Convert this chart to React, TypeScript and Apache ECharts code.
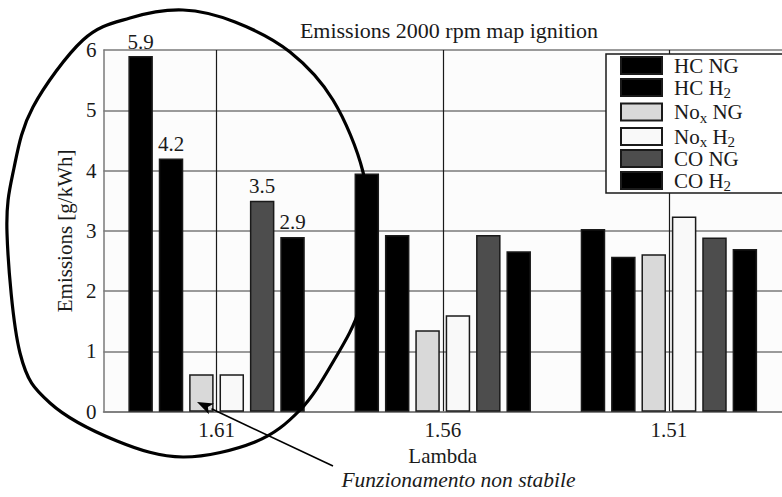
import React, { useEffect, useRef } from "react";
import * as echarts from "echarts";

const categories = ["1.61", "1.56", "1.51"];
const hcNG = [5.9, 3.95, 3.03];
const hcH2 = [4.2, 2.93, 2.57];
const noxNG = [0.62, 1.35, 2.61];
const noxH2 = [0.62, 1.6, 3.24];
const coNG = [3.5, 2.93, 2.89];
const coH2 = [2.9, 2.66, 2.7];

const seriesNames = ["HC NG", "HC H2", "Nox NG", "Nox H2", "CO NG", "CO H2"];
const legendLabels = [
  "{m|HC NG}",
  "{m|HC H}{s|2}",
  "{m|No}{s|x}{m| NG}",
  "{m|No}{s|x}{m| H}{s|2}",
  "{m|CO NG}",
  "{m|CO H}{s|2}",
];
const seriesData = [hcNG, hcH2, noxNG, noxH2, coNG, coH2];
const seriesColors = ["#000000", "#000000", "#d9d9d9", "#f9f9f9", "#4d4d4d", "#000000"];
const labelled = [true, true, false, false, true, true];

const title = "Emissions 2000 rpm map ignition";
const yName = "Emissions [g/kWh]";
const xName = "Lambda";
const note = "Funzionamento non stabile";

// hand-drawn loop around the unstable region (annotation outline)
const loopPts: number[][] = [
  [183, 10], [235, 22], [290, 52], [333, 100], [363, 172], [368, 240], [360, 307],
  [333, 362], [300, 410], [255, 442], [183, 457], [117, 441], [50, 403], [20, 353],
  [7, 233], [14, 168], [33, 107], [83, 40], [130, 18],
];
const arrowTail = [333, 466];
const arrowTip = [197, 402];

const FONT = "'Liberation Serif', 'Times New Roman', serif";
const TXT = "#1a1a1a";

function loopPath(pts: number[][]): string {
  const n = pts.length;
  let d = `M${pts[0][0]},${pts[0][1]}`;
  for (let i = 0; i < n; i++) {
    const p0 = pts[(i - 1 + n) % n];
    const p1 = pts[i];
    const p2 = pts[(i + 1) % n];
    const p3 = pts[(i + 2) % n];
    const c1x = p1[0] + (p2[0] - p0[0]) / 6;
    const c1y = p1[1] + (p2[1] - p0[1]) / 6;
    const c2x = p2[0] - (p3[0] - p1[0]) / 6;
    const c2y = p2[1] - (p3[1] - p1[1]) / 6;
    d += ` C${c1x},${c1y} ${c2x},${c2y} ${p2[0]},${p2[1]}`;
  }
  return d + " Z";
}

let registered = false;

export default function App() {
  const ref = useRef<HTMLDivElement>(null);
  useEffect(() => {
    if (!ref.current) return;
    if (!registered) {
      echarts.graphic.registerShape("loop", echarts.graphic.extendPath(loopPath(loopPts), {}));
      registered = true;
    }
    const chart = echarts.init(ref.current, null, { renderer: "svg" });

    const dx = arrowTip[0] - arrowTail[0];
    const dy = arrowTip[1] - arrowTail[1];
    const len = Math.sqrt(dx * dx + dy * dy);
    const ux = dx / len, uy = dy / len;
    const hl = 16, hw = 6;
    const bx = arrowTip[0] - ux * hl, by = arrowTip[1] - uy * hl;
    const px = -uy, py = ux;

    const series = seriesNames.map((name, si) => ({
      name,
      type: "bar",
      barWidth: 24.5,
      barGap: "24%",
      itemStyle: { color: seriesColors[si], borderColor: "#1a1a1a", borderWidth: 1.5 },
      data: seriesData[si].map((v, i) => ({
        value: v,
        label: {
          show: labelled[si] && i === 0,
          position: "top",
          distance: 4,
          fontFamily: FONT,
          fontSize: 21,
          color: TXT,
        },
      })),
    }));

    chart.setOption({
      animation: false,
      backgroundColor: "#ffffff",
      textStyle: { fontFamily: FONT },
      title: {
        text: title,
        left: 449,
        top: 19,
        padding: 0,
        textAlign: "center",
        textStyle: { fontFamily: FONT, fontSize: 22, fontWeight: "normal", color: TXT },
      },
      legend: {
        orient: "vertical",
        left: 606,
        top: 53,
        padding: [2, 120, 1, 14],
        itemWidth: 41,
        itemHeight: 17,
        itemGap: -1.5,
        borderWidth: 0,
        icon: "rect",
        z: 6,
        data: seriesNames,
        formatter: (name: string) => legendLabels[seriesNames.indexOf(name)],
        textStyle: {
          fontFamily: FONT,
          fontSize: 21,
          color: TXT,
          padding: [0, 0, 0, 7],
          rich: {
            m: { fontFamily: FONT, fontSize: 21, color: TXT, lineHeight: 23 },
            s: { fontFamily: FONT, fontSize: 15, color: TXT, lineHeight: 10, padding: [11, 0, 0, 0] },
          },
        },
      },
      grid: {
        left: 103.5,
        right: -10,
        top: 50,
        bottom: 85.3,
        show: true,
        backgroundColor: "#fcfcfc",
        borderWidth: 0,
      },
      xAxis: {
        type: "category",
        data: categories,
        boundaryGap: true,
        axisLine: { show: true, lineStyle: { color: "#7a7a7a", width: 1.5 } },
        axisTick: { show: false },
        axisLabel: { margin: 8, fontFamily: FONT, fontSize: 21, color: TXT },
        splitLine: { show: true, alignWithLabel: true, lineStyle: { color: "#1a1a1a", width: 1.2 } },
        name: xName,
        nameLocation: "middle",
        nameGap: 29,
        nameTextStyle: { fontFamily: FONT, fontSize: 21, color: TXT },
      },
      yAxis: {
        type: "value",
        min: 0,
        max: 6,
        interval: 1,
        axisLine: { show: true, lineStyle: { color: "#7a7a7a", width: 1.5 } },
        axisTick: { show: false },
        axisLabel: { margin: 7, fontFamily: FONT, fontSize: 21, color: TXT },
        splitLine: { show: true, lineStyle: { color: "#7a7a7a", width: 1.5 } },
        name: yName,
        nameLocation: "middle",
        nameGap: 27,
        nameRotate: 90,
        nameTextStyle: { fontFamily: FONT, fontSize: 21, color: TXT },
      },
      series,
      graphic: [
        {
          type: "rect",
          z: 5,
          silent: true,
          shape: { x: 606, y: 54, width: 200, height: 139 },
          style: { fill: "#ffffff", stroke: "#1a1a1a", lineWidth: 1.5 },
        },
        {
          type: "loop",
          x: 0,
          y: 0,
          scaleX: 1,
          scaleY: 1,
          z: 100,
          silent: true,
          style: { fill: "none", stroke: "#000000", lineWidth: 3.2 },
        },
        {
          type: "line",
          z: 100,
          silent: true,
          shape: { x1: arrowTail[0], y1: arrowTail[1], x2: bx, y2: by },
          style: { stroke: "#000000", lineWidth: 1.6 },
        },
        {
          type: "polygon",
          z: 100,
          silent: true,
          shape: {
            points: [
              [arrowTip[0], arrowTip[1]],
              [bx + px * hw, by + py * hw],
              [bx + ux * 4, by + uy * 4],
              [bx - px * hw, by - py * hw],
            ],
          },
          style: { fill: "#000000" },
        },
        {
          type: "text",
          z: 100,
          silent: true,
          style: {
            text: note,
            x: 458.5,
            y: 469,
            align: "center",
            verticalAlign: "top",
            font: "italic 21.5px 'Liberation Serif', 'Times New Roman', serif",
            fill: TXT,
          },
        },
      ],
    });
    return () => chart.dispose();
  }, []);
  return <div ref={ref} style={{ width: 782, height: 497, position: "absolute", left: 0, top: 0 }} />;
}
